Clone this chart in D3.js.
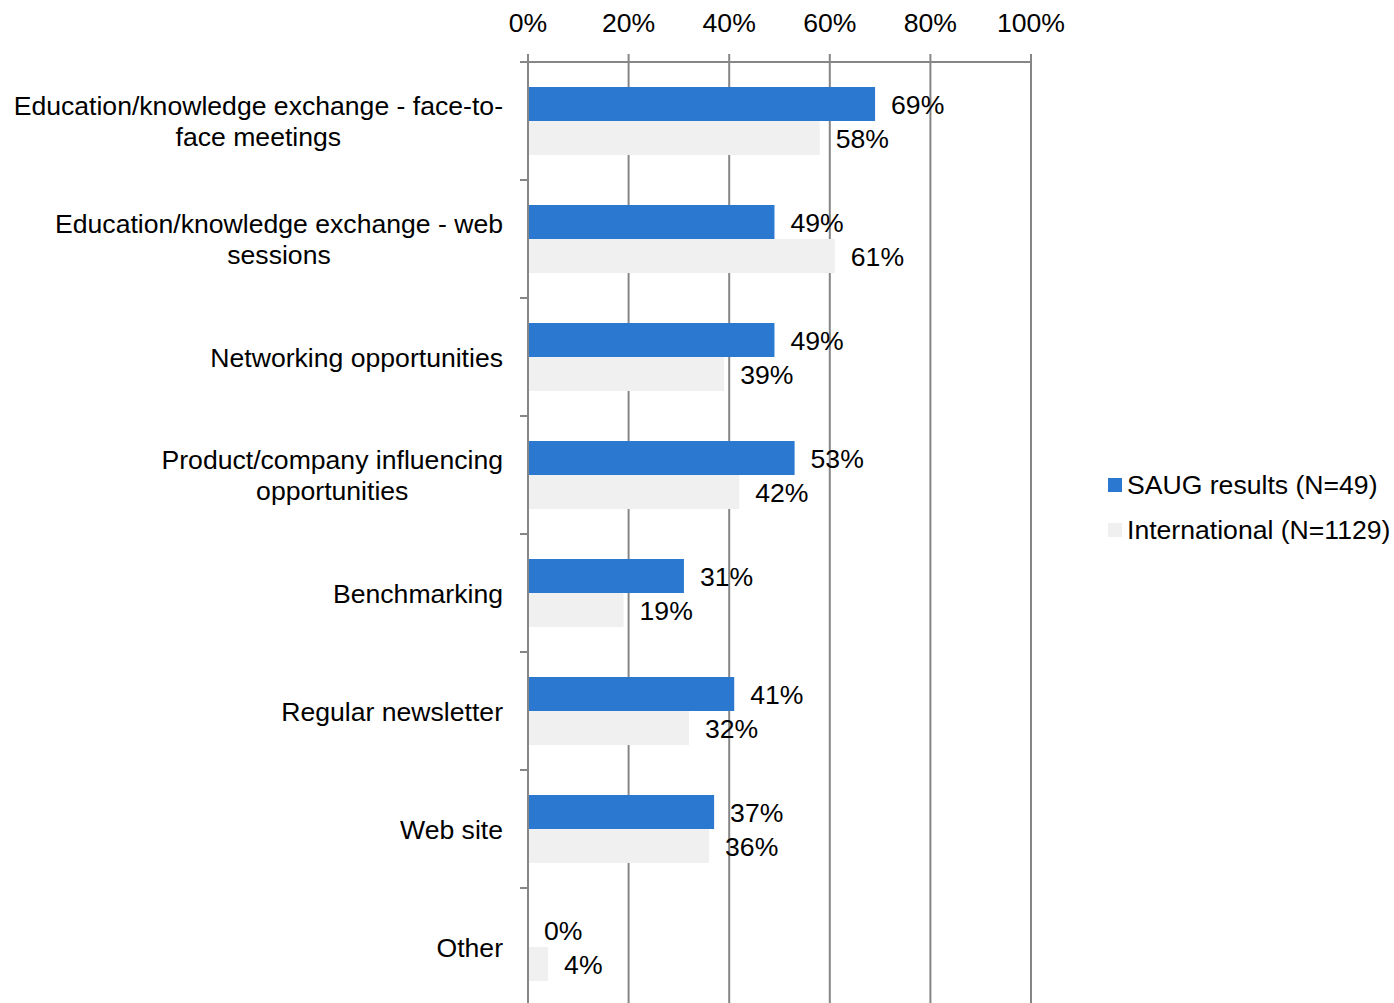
<!DOCTYPE html>
<html>
<head>
<meta charset="utf-8">
<script src="https://cdn.jsdelivr.net/npm/d3@7"></script>
<style>
  html, body { margin: 0; padding: 0; background: #fff; }
  svg { display: block; font-family: "Liberation Sans", Arial, sans-serif; }
</style>
</head>
<body>
<svg id="chart" width="1394" height="1003"></svg>
<script>
// Categories (each entry is a list of label lines)
const categories = [
  ["Education/knowledge exchange - face-to-", "face meetings"],
  ["Education/knowledge exchange - web", "sessions"],
  ["Networking opportunities"],
  ["Product/company influencing", "opportunities"],
  ["Benchmarking"],
  ["Regular newsletter"],
  ["Web site"],
  ["Other"]
];
const saugValues = [69, 49, 49, 53, 31, 41, 37, 0];
const internationalValues = [58, 61, 39, 42, 19, 32, 36, 4];
const seriesNames = ["SAUG results (N=49)", "International (N=1129)"];
const xTicks = [0, 20, 40, 60, 80, 100];

const colors = ["#2a78d0", "#f0f0f0"];
const axisColor = "#868686";
const fontSize = 26.6;

const svg = d3.select("#chart");
const plot = { left: 528, right: 1031, top: 62, bottom: 1006 };

const x = d3.scaleLinear().domain([0, 100]).range([plot.left, plot.right]);
const y = d3.scaleBand()
  .domain(d3.range(categories.length))
  .range([plot.top, plot.bottom])
  .paddingInner(0).paddingOuter(0);
const barH = 34;

// vertical gridlines (with small outward ticks above the axis line)
svg.append("g").selectAll("line")
  .data(xTicks)
  .join("line")
  .attr("x1", d => x(d)).attr("x2", d => x(d))
  .attr("y1", plot.top - 8).attr("y2", plot.bottom)
  .attr("stroke", axisColor).attr("stroke-width", 2);

// top axis line
svg.append("line")
  .attr("x1", plot.left).attr("x2", plot.right)
  .attr("y1", plot.top).attr("y2", plot.top)
  .attr("stroke", axisColor).attr("stroke-width", 2);

// category ticks on the left axis
svg.append("g").selectAll("line")
  .data(d3.range(categories.length + 1))
  .join("line")
  .attr("x1", plot.left - 8).attr("x2", plot.left)
  .attr("y1", i => plot.top + i * y.bandwidth())
  .attr("y2", i => plot.top + i * y.bandwidth())
  .attr("stroke", axisColor).attr("stroke-width", 2);

// top tick labels
svg.append("g").selectAll("text")
  .data(xTicks)
  .join("text")
  .attr("x", d => x(d)).attr("y", 32)
  .attr("text-anchor", "middle")
  .attr("font-size", fontSize)
  .attr("fill", "#000")
  .text(d => d + "%");

// bars
const series = [saugValues, internationalValues];
series.forEach((vals, s) => {
  const g = svg.append("g");
  g.selectAll("rect")
    .data(vals)
    .join("rect")
    .attr("x", x(0))
    .attr("y", (d, i) => y(i) + y.bandwidth() / 2 - barH + s * barH)
    .attr("width", d => x(d) - x(0))
    .attr("height", barH)
    .attr("fill", colors[s]);
  g.selectAll("text")
    .data(vals)
    .join("text")
    .attr("x", d => x(d) + 16)
    .attr("y", (d, i) => y(i) + y.bandwidth() / 2 - barH + s * barH + barH / 2)
    .attr("dy", "0.38em")
    .attr("font-size", fontSize)
    .attr("fill", "#000")
    .text(d => d + "%");
});

// redraw axis line at 0 on top of bars
svg.append("line")
  .attr("x1", plot.left).attr("x2", plot.left)
  .attr("y1", plot.top - 8).attr("y2", plot.bottom)
  .attr("stroke", axisColor).attr("stroke-width", 2);

// category labels: block right-aligned, lines centered within the block
const labelRight = 503;
const lineH = 30.5;
categories.forEach((lines, i) => {
  const g = svg.append("g");
  const texts = g.selectAll("text")
    .data(lines)
    .join("text")
    .attr("font-size", fontSize)
    .attr("fill", "#000")
    .attr("text-anchor", "middle")
    .attr("dy", "0.36em")
    .text(d => d);
  let maxW = 0;
  texts.each(function () { maxW = Math.max(maxW, this.getComputedTextLength()); });
  const cy = y(i) + y.bandwidth() / 2;
  texts
    .attr("x", labelRight - maxW / 2)
    .attr("y", (d, j) => cy + (j - (lines.length - 1) / 2) * lineH);
});

// legend
const legend = svg.append("g");
seriesNames.forEach((name, s) => {
  const ly = 485 + s * 45;
  legend.append("rect")
    .attr("x", 1108).attr("y", ly - 7)
    .attr("width", 14).attr("height", 14)
    .attr("fill", colors[s]);
  legend.append("text")
    .attr("x", 1127).attr("y", ly)
    .attr("dy", "0.33em")
    .attr("font-size", fontSize)
    .attr("fill", "#000")
    .text(name);
});
</script>
</body>
</html>
